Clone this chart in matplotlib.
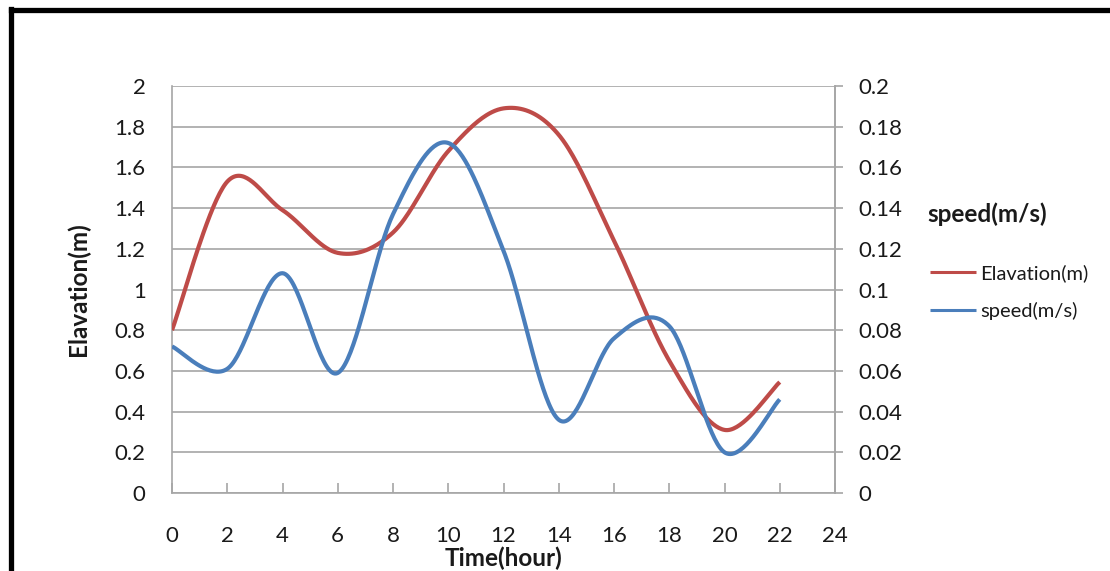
import numpy as np
import matplotlib
matplotlib.use("Agg")
import matplotlib.pyplot as plt
from matplotlib.lines import Line2D

hours = [0, 2, 4, 6, 8, 10, 12, 14, 16, 18, 20, 22]
elevation = [0.80, 1.53, 1.39, 1.18, 1.28, 1.68, 1.89, 1.76, 1.24, 0.65, 0.31, 0.545]
speed = [0.072, 0.061, 0.108, 0.059, 0.137, 0.172, 0.119, 0.036, 0.076, 0.082, 0.020, 0.046]
xticks = list(range(0, 25, 2))
left_ticks = [0, 0.2, 0.4, 0.6, 0.8, 1, 1.2, 1.4, 1.6, 1.8, 2]
right_ticks = [0, 0.02, 0.04, 0.06, 0.08, 0.1, 0.12, 0.14, 0.16, 0.18, 0.2]

RED = "#BE4B48"
BLUE = "#4A7EBB"
GRID = "#A6A6A6"
FONT = "Lato"
TXT = "#1a1a1a"


def smooth(xs, ys, n=40):
    """Excel-style smoothed line (Catmull-Rom as cubic Bezier)."""
    P = np.column_stack([xs, ys]).astype(float)
    m = len(P)
    out = []
    for i in range(m - 1):
        p0 = P[i - 1] if i > 0 else P[i]
        p1 = P[i]
        p2 = P[i + 1]
        p3 = P[i + 2] if i + 2 < m else P[i + 1]
        b1 = p1 + (p2 - p0) / 6.0
        b2 = p2 - (p3 - p1) / 6.0
        t = np.linspace(0, 1, n)[:, None]
        seg = ((1 - t) ** 3) * p1 + 3 * ((1 - t) ** 2) * t * b1 + 3 * (1 - t) * t ** 2 * b2 + t ** 3 * p2
        out.append(seg if i == 0 else seg[1:])
    c = np.vstack(out)
    return c[:, 0], c[:, 1]


fig = plt.figure(figsize=(11.10, 5.71), dpi=100)
ax = fig.add_axes([172 / 1110, 1 - 493 / 571, (835 - 172) / 1110, (493 - 86) / 571])
ax2 = ax.twinx()

ex, ey = smooth(hours, elevation)
sx, sy = smooth(hours, speed)
l1, = ax.plot(ex, ey, color=RED, lw=3.0, solid_capstyle="butt", zorder=3, label="Elavation(m)")
l2, = ax2.plot(sx, sy, color=BLUE, lw=3.0, solid_capstyle="butt", zorder=3, label="speed(m/s)")

ax.set_xlim(0, 24)
ax.set_ylim(0, 2)
ax2.set_ylim(0, 0.2)
ax.set_xticks(xticks)
ax.set_yticks(left_ticks)
ax2.set_yticks(right_ticks)
ax.set_yticklabels([f"{v:g}" for v in left_ticks])
ax2.set_yticklabels([f"{v:g}" for v in right_ticks])

ax.yaxis.grid(True, color=GRID, lw=1.2)
ax.set_axisbelow(True)
for a in (ax, ax2):
    for s in a.spines.values():
        s.set_color(GRID)
        s.set_linewidth(1.2)
    a.spines["top"].set_visible(False)
ax2.spines["left"].set_visible(False)
ax2.spines["bottom"].set_visible(False)

ax.tick_params(axis="x", direction="in", length=7, width=1.2, color=GRID, pad=24,
               labelsize=16, labelcolor=TXT)
ax.tick_params(axis="y", length=0, pad=19, labelsize=16, labelcolor=TXT)
ax2.tick_params(axis="y", direction="out", length=6, width=1.2, color=GRID, pad=11,
                labelsize=16, labelcolor=TXT)
for lab in ax.get_xticklabels() + ax.get_yticklabels() + ax2.get_yticklabels():
    lab.set_family(FONT)

ax.set_xlabel("Time(hour)", family=FONT, fontsize=17.5, fontweight="bold", color=TXT)
ax.xaxis.set_label_coords(0.5, (493 - 547) / 407)
ax.set_ylabel("Elavation(m)", family=FONT, fontsize=17.5, fontweight="bold", color=TXT)
ax.yaxis.set_label_coords((90 - 172) / 663, 0.5)
ax2.set_ylabel("speed(m/s)", family=FONT, fontsize=17.5, fontweight="bold", rotation=0,
               ha="left", va="center", color=TXT)
ax2.yaxis.set_label_coords((927 - 172) / 663, (493 - 214) / 407)

fig.legend(handles=[l1, l2], loc="center left", frameon=False,
           bbox_to_anchor=(930 / 1110, 1 - 292 / 571), handlelength=2.3, handletextpad=0.2,
           labelspacing=0.95, borderaxespad=0, borderpad=0,
           prop={"family": FONT, "size": 14.5})
for h in fig.legends[0].legend_handles:
    h.set_linewidth(2.2)
for t in fig.legends[0].get_texts():
    t.set_color(TXT)

fig.add_artist(Line2D([10.5 / 1110, 10.5 / 1110], [0, 1 - 9 / 571], transform=fig.transFigure,
                      color="black", lw=3.8, solid_capstyle="projecting"))
fig.add_artist(Line2D([10.5 / 1110, 1], [1 - 9.5 / 571, 1 - 9.5 / 571], transform=fig.transFigure,
                      color="black", lw=3.8, solid_capstyle="projecting"))

fig.savefig("out.png", dpi=100)
